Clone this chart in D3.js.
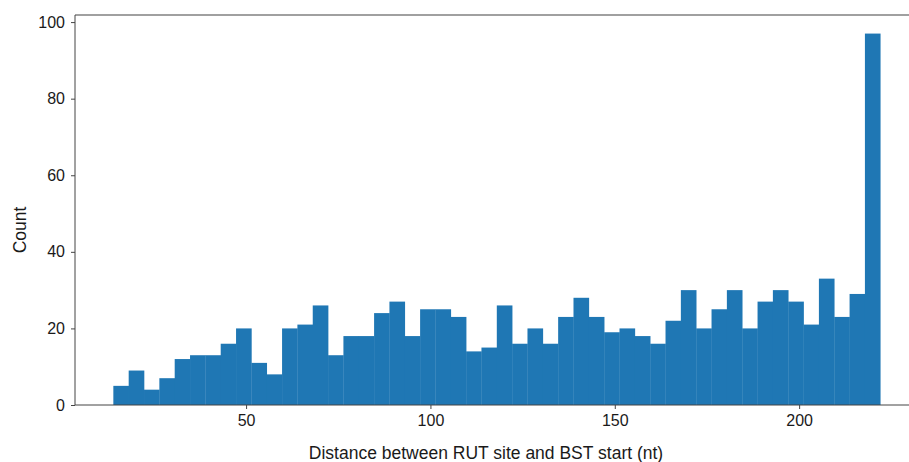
<!DOCTYPE html>
<html>
<head>
<meta charset="utf-8">
<script src="https://cdn.jsdelivr.net/npm/d3@7"></script>
<style>
  body { margin: 0; background: #fff; }
  .axis text { font-family: "Liberation Sans", Arial, sans-serif; font-size: 16px; fill: #1a1a1a; }
  .label { font-family: "Liberation Sans", Arial, sans-serif; font-size: 17.5px; fill: #1a1a1a; }
</style>
</head>
<body>
<div id="plot-area"></div>
<script>
// histogram counts, one per bin (50 bins)
const counts = [5, 9, 4, 7, 12, 13, 13, 16, 20, 11,
                8, 20, 21, 26, 13, 18, 18, 24, 27, 18,
                25, 25, 23, 14, 15, 26, 16, 20, 16, 23,
                28, 23, 19, 20, 18, 16, 22, 30, 20, 25,
                30, 20, 27, 30, 27, 21, 33, 23, 29, 97];
const binStart = 14, binEnd = 222;
const xTicks = [50, 100, 150, 200];
const yTicks = [0, 20, 40, 60, 80, 100];

const width = 909, height = 462;
const margin = {top: 15, left: 75, bottom: 57};
const plotRight = 918.6;

const binWidth = (binEnd - binStart) / counts.length;
const bins = counts.map(function (c, i) {
    return {x0: binStart + i * binWidth, x1: binStart + (i + 1) * binWidth, count: c};
});

// matplotlib-like 5% margins on x
const pad = (binEnd - binStart) * 0.05;
const x = d3.scaleLinear().domain([binStart - pad, binEnd + pad]).range([margin.left, plotRight]);
const y = d3.scaleLinear().domain([0, d3.max(counts) * 1.05]).range([height - margin.bottom, margin.top]);

const svg = d3.select("#plot-area").append("svg")
    .attr("width", width)
    .attr("height", height);

// bars
svg.append("g").selectAll("rect")
    .data(bins)
    .enter().append("rect")
    .attr("x", function (d) { return x(d.x0); })
    .attr("width", function (d) { return x(d.x1) - x(d.x0) + 0.3; })
    .attr("y", function (d) { return y(d.count); })
    .attr("height", function (d) { return y(0) - y(d.count); })
    .attr("fill", "#1f77b4");

// x axis
const xAxis = svg.append("g")
    .attr("class", "axis")
    .attr("transform", "translate(0," + y(0) + ")")
    .call(d3.axisBottom(x).tickValues(xTicks).tickSize(4).tickPadding(6).tickFormat(d3.format("d")));
xAxis.select(".domain").remove();

// y axis
const yAxis = svg.append("g")
    .attr("class", "axis")
    .attr("transform", "translate(" + margin.left + ",0)")
    .call(d3.axisLeft(y).tickValues(yTicks).tickSize(4).tickPadding(6).tickFormat(d3.format("d")));
yAxis.select(".domain").remove();
svg.selectAll(".axis .tick line").attr("stroke", "#444");

// spines
svg.append("line")
    .attr("x1", margin.left).attr("x2", width)
    .attr("y1", margin.top).attr("y2", margin.top)
    .attr("stroke", "#808080").attr("stroke-width", 1.5);
svg.append("line")
    .attr("x1", margin.left).attr("x2", margin.left)
    .attr("y1", margin.top).attr("y2", y(0))
    .attr("stroke", "#444").attr("stroke-width", 1);
svg.append("line")
    .attr("x1", margin.left).attr("x2", width)
    .attr("y1", y(0)).attr("y2", y(0))
    .attr("stroke", "#444").attr("stroke-width", 1);

// labels
svg.append("text")
    .attr("class", "label")
    .attr("x", 486)
    .attr("y", 459)
    .style("text-anchor", "middle")
    .text("Distance between RUT site and BST start (nt)");

svg.append("text")
    .attr("class", "label")
    .attr("transform", "translate(26," + 230 + ") rotate(-90)")
    .style("text-anchor", "middle")
    .text("Count");
</script>
</body>
</html>
